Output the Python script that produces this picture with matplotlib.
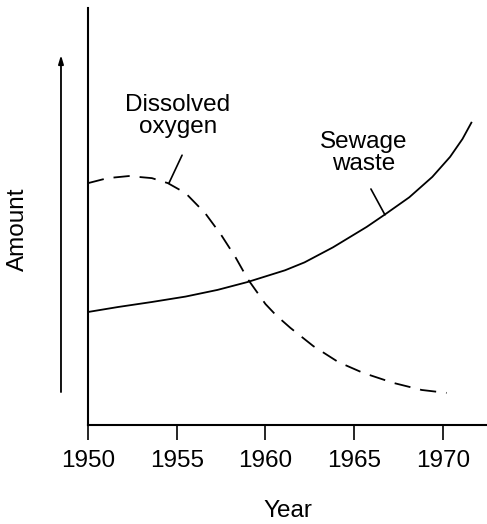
import matplotlib
matplotlib.use("Agg")
import matplotlib.pyplot as plt

plt.rcParams["font.family"] = ["Liberation Sans", "DejaVu Sans"]

# values (arbitrary "amount" units, 0 = x axis)
years_sewage = [1950, 1951.7, 1953.6, 1955.5, 1957.3, 1959.0, 1961.1, 1962.2,
                1963.8, 1965.7, 1966.7, 1968.1, 1969.4, 1970.4, 1971.1, 1971.6]
sewage = [27.1, 28.3, 29.5, 30.8, 32.4, 34.3, 37.1, 39.0,
          42.6, 47.5, 50.4, 54.6, 59.5, 64.3, 68.6, 72.5]

years_oxygen = [1950, 1951.1, 1952.3, 1953.6, 1954.5, 1955.5, 1956.6, 1957.5,
                1958.3, 1959.0, 1960.0, 1960.6, 1961.4, 1962.7, 1964.1,
                1965.5, 1967.2, 1968.8, 1970.2]
oxygen = [58.0, 59.2, 59.7, 59.2, 58.0, 55.6, 50.8, 45.6,
          40.3, 35.0, 29.0, 26.3, 23.3, 18.9, 15.1,
          12.5, 10.1, 8.4, 7.7]

xticks = [1950, 1955, 1960, 1965, 1970]

W, H = 487, 524
fig = plt.figure(figsize=(W / 100, H / 100), dpi=100)
ax = fig.add_axes([88 / W, (H - 425) / H, (W - 88) / W, (425 - 8) / H])

ax.plot(years_sewage, sewage, color="black", lw=1.3)
ax.plot(years_oxygen, oxygen, color="black", lw=1.3, dashes=(9, 5.5))

ax.set_xlim(1950, 1972.48)
ax.set_ylim(0, 100)
ax.set_xticks(xticks)
ax.set_yticks([])
ax.tick_params(axis="x", direction="out", length=11, width=1.2, pad=7,
               labelsize=17.5)
for side in ("top", "right"):
    ax.spines[side].set_visible(False)
for side in ("left", "bottom"):
    ax.spines[side].set_linewidth(1.5)

# curve labels with leader lines
ax.text(1955.07, 74.1, "Dissolved\noxygen", ha="center", va="center",
        fontsize=17.5, linespacing=1.0)
ax.annotate("", xy=(1954.56, 58.0), xytext=(1955.3, 64.7),
            arrowprops=dict(arrowstyle="-", color="black", lw=1.2,
                            shrinkA=0, shrinkB=0))
ax.text(1965.55, 65.2, "Sewage\nwaste", ha="center", va="center",
        fontsize=17.5, linespacing=1.0)
ax.annotate("", xy=(1966.73, 50.4), xytext=(1965.94, 56.6),
            arrowprops=dict(arrowstyle="-", color="black", lw=1.2,
                            shrinkA=0, shrinkB=0))

# separate "amount" arrow left of the axis
ax.annotate("", xy=(-0.0677, 0.887), xytext=(-0.0677, 0.079),
            xycoords="axes fraction", annotation_clip=False,
            arrowprops=dict(arrowstyle="-|>,head_length=0.5,head_width=0.15",
                            color="black", lw=1.3, shrinkA=0, shrinkB=0))

fig.text(18 / W, 1 - 229 / H, "Amount", rotation=90, ha="center",
         va="center", fontsize=17.5)
fig.text(288 / W, 1 - 511 / H, "Year", ha="center", va="center",
         fontsize=17.5)

fig.savefig("out.png", dpi=100)
